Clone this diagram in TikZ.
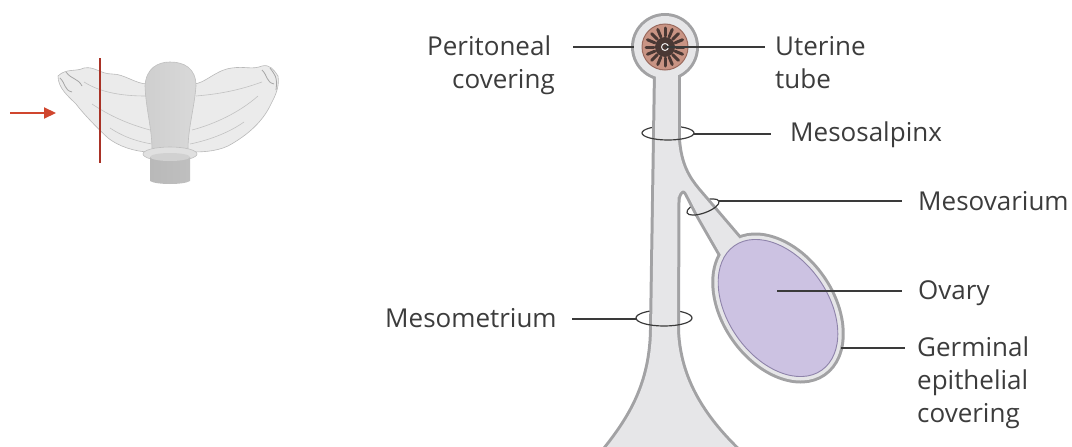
\documentclass[tikz,border=0pt]{standalone}
\usepackage{fontspec}
\setmainfont{Open Sans}
\usetikzlibrary{arrows.meta}
\definecolor{bodyfill}{HTML}{E6E6E8}
\definecolor{bodyline}{HTML}{A2A2A4}
\definecolor{leader}{HTML}{3A3A3A}
\definecolor{labeltext}{HTML}{3C3C3C}
\definecolor{ovaryfill}{HTML}{CCC2E2}
\definecolor{ovaryline}{HTML}{8E83AA}
\definecolor{tubefill}{HTML}{C99484}
\definecolor{tubeline}{HTML}{9A6A5E}
\definecolor{mucosa}{HTML}{4A3834}
\definecolor{cutred}{HTML}{A93226}
\definecolor{arrowred}{HTML}{D0462E}

% outlines of the cross-section, in pixel-like units (y grows downwards)
\def\stalkpath{(598,458) .. controls (625,425) and (651,390) .. (652,330) -- (656,72) -- (678,72) -- (677,330) .. controls (679,385) and (710,425) .. (746,458) -- cycle}
\def\branchpath{(665,140) -- (678,140) .. controls (680,165) and (688,178) .. (698,190) -- (745,245) -- (725,262) -- (702,222) .. controls (695,210) and (689,197) .. (686,192) .. controls (684,189) and (680,190) .. (678,197) -- (665,200) -- cycle}
\def\headpath{(665,47) circle[radius=31]}
\def\ovarypath{[rotate around={35:(778,308)}] (778,308) ellipse[x radius=54,y radius=80]}

\begin{document}
\begin{tikzpicture}[x=1pt,y=-1pt,
  lbl/.style={font=\fontsize{26}{33}\selectfont, text=labeltext, inner sep=0pt, align=left},
  leadline/.style={draw=leader, line width=1.6pt},
  ring/.style={draw=leader, line width=1.2pt},
  outline/.style={draw=bodyline, line width=6pt},
  body/.style={fill=bodyfill}]
\useasboundingbox (0,0) rectangle (1072,447);
\clip (0,0) rectangle (1072,447);

% ---------- small overview: uterus with broad ligaments ----------
\path[fill=gray!16, draw=gray!55, line width=0.6pt]
  (58,76) .. controls (66,68) and (76,72) .. (84,68)
  .. controls (95,66) and (100,74) .. (112,74)
  .. controls (125,74) and (135,84) .. (148,84) -- (193,84)
  .. controls (205,84) and (215,70) .. (232,68)
  .. controls (245,66) and (252,70) .. (262,66)
  .. controls (270,64) and (274,70) .. (278,76)
  .. controls (280,88) and (274,98) .. (270,106)
  .. controls (262,122) and (248,135) .. (228,146)
  .. controls (215,152) and (200,152) .. (190,152) -- (150,152)
  .. controls (135,152) and (118,146) .. (108,138)
  .. controls (95,126) and (82,112) .. (76,104)
  .. controls (68,96) and (58,88) .. (58,76) -- cycle;
% folds of the ligament
\draw[gray!48, line width=0.6pt]
  (84,82) .. controls (100,92) and (120,96) .. (146,96)
  (92,104) .. controls (110,116) and (128,124) .. (150,130)
  (110,128) .. controls (125,138) and (140,142) .. (152,144)
  (196,96) .. controls (220,94) and (240,90) .. (262,82)
  (192,130) .. controls (215,124) and (240,112) .. (258,96)
  (190,144) .. controls (210,140) and (230,132) .. (244,122);
% fimbriated ends
\draw[gray!70, line width=0.8pt]
  (60,78) .. controls (66,84) and (64,90) .. (72,92)
  (66,72) .. controls (72,80) and (78,78) .. (82,86)
  (262,70) .. controls (268,76) and (266,82) .. (274,84)
  (270,68) .. controls (274,74) and (278,76) .. (276,90);
% uterine body
\path[left color=gray!38, middle color=white, right color=gray!30, draw=gray!50, line width=0.6pt]
  (145,86) .. controls (146,68) and (158,62) .. (170,62)
  .. controls (184,62) and (196,68) .. (196,86)
  .. controls (194,110) and (188,128) .. (188,150) -- (152,150)
  .. controls (152,128) and (146,110) .. (145,86) -- cycle;
% cervix
\path[fill=gray!24, draw=gray!50, line width=0.6pt] (170,154) ellipse[x radius=27, y radius=7];
\path[left color=gray!55, middle color=gray!18, right color=gray!50]
  (150,157) -- (150,181) .. controls (156,185) and (184,185) .. (190,181) -- (190,157) -- cycle;
\path[fill=gray!36] (170,157) ellipse[x radius=20, y radius=4];
% plane of section and viewing direction
\coordinate (cutTop) at (100,58);
\coordinate (cutBottom) at (100,163);
\draw[cutred, line width=2.4pt] (cutTop) -- (cutBottom);
\coordinate (viewTail) at (10,113);
\coordinate (viewTip) at (56,113);
\draw[arrowred, line width=2.2pt, -{Triangle[length=12pt,width=11pt]}] (viewTail) -- (viewTip);

% ---------- cross-section ----------
% hidden halves of the reference rings
\draw[ring] (668,133) ++(-26,0) arc[start angle=180, end angle=360, x radius=26, y radius=7];
\draw[ring] (664,318) ++(-28,0) arc[start angle=180, end angle=360, x radius=28, y radius=8];
\begin{scope}[rotate around={20:(703,207)}]
  \draw[ring] (703,207) ++(-17,0) arc[start angle=180, end angle=360, x radius=17, y radius=6];
\end{scope}

% grey outline of the whole fold, then its fill
\path[outline] \stalkpath;
\path[outline] \branchpath;
\path[outline] \headpath;
\path[outline] \ovarypath;
\path[body] \stalkpath;
\path[body] \branchpath;
\path[body] \headpath;
\path[body] \ovarypath;

% uterine tube with folded mucosa
\path[fill=tubefill, draw=tubeline, line width=1pt] (665,47) circle[radius=23];
\foreach \a in {0,22.5,...,359} {
  \draw[mucosa, line width=3pt, line cap=round] (665,47) ++(\a:11) -- ++(\a:8);
}
\path[fill=mucosa] (665,47) circle[radius=10];
\draw[white!85!gray, line width=1pt] (665,47) circle[radius=3.5];

% ovary
\path[fill=ovaryfill, draw=ovaryline, line width=0.9pt, rotate around={35:(778,308)}]
  (778,308) ellipse[x radius=50, y radius=76];

% visible halves of the reference rings
\draw[ring] (668,133) ++(26,0) arc[start angle=0, end angle=180, x radius=26, y radius=7];
\draw[ring] (664,318) ++(28,0) arc[start angle=0, end angle=180, x radius=28, y radius=8];
\begin{scope}[rotate around={20:(703,207)}]
  \draw[ring] (703,207) ++(17,0) arc[start angle=0, end angle=180, x radius=17, y radius=6];
\end{scope}

% ---------- labels ----------
\node[lbl, anchor=base west] (peri) at (427,88) {Peritoneal\\\hspace*{25pt}covering};
\node[lbl, anchor=base west] (tube) at (775,88) {Uterine\\tube};
\node[lbl, anchor=base west] (salpinx) at (790,141) {Mesosalpinx};
\node[lbl, anchor=base west] (varium) at (918,210) {Mesovarium};
\node[lbl, anchor=base west] (ovary) at (918,299) {Ovary};
\node[lbl, anchor=base west] (metrium) at (385,327) {Mesometrium};
\node[lbl, anchor=base west] (germ) at (917,422) {Germinal\\epithelial\\covering};

% leader lines
\coordinate (periA) at (573,47);   \coordinate (periB) at (634,47);
\coordinate (tubeA) at (665,47);   \coordinate (tubeB) at (765,47);
\coordinate (salpA) at (694,134);  \coordinate (salpB) at (771,134);
\coordinate (varA) at (719,201);   \coordinate (varB) at (902,201);
\coordinate (ovA) at (777,291);    \coordinate (ovB) at (902,291);
\coordinate (metA) at (572,319);   \coordinate (metB) at (637,319);
\coordinate (germA) at (841,348);  \coordinate (germB) at (905,348);
\draw[leadline] (periA) -- (periB);
\draw[leadline] (tubeA) -- (tubeB);
\draw[leadline] (salpA) -- (salpB);
\draw[leadline] (varA) -- (varB);
\draw[leadline] (ovA) -- (ovB);
\draw[leadline] (metA) -- (metB);
\draw[leadline] (germA) -- (germB);
\end{tikzpicture}
\end{document}
